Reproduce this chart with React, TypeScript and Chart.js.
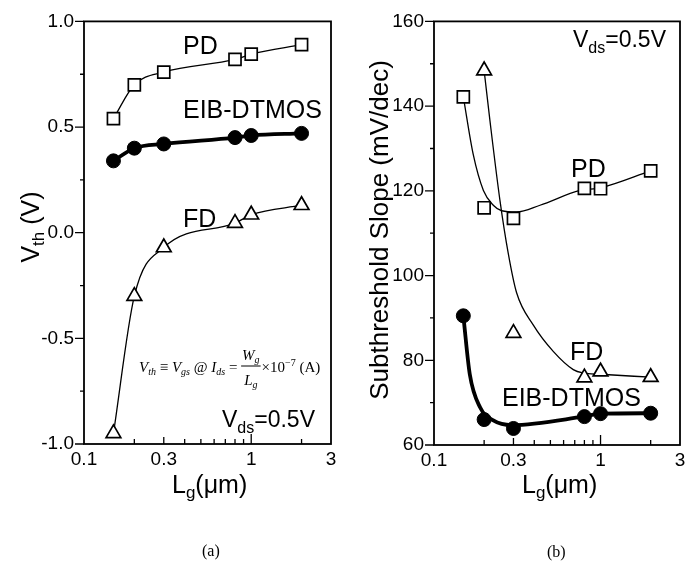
import React, { useEffect, useRef } from 'react';
import { Chart, registerables } from 'chart.js';
Chart.register(...registerables);

// ---------- data ----------
const lgX = [0.15, 0.2, 0.3, 0.8, 1.0, 2.0];

// (a) threshold voltage (V)
const vthPD = [0.54, 0.7, 0.76, 0.82, 0.845, 0.89];
const vthEIB = [0.34, 0.4, 0.42, 0.45, 0.46, 0.47];
const vthFD = [-0.95, -0.3, -0.07, 0.045, 0.085, 0.13];

// (b) subthreshold slope (mV/dec)
const ssPD = [142.2, 116.0, 113.5, 120.6, 120.5, 124.7];
const ssEIB = [90.5, 66.0, 63.9, 66.7, 67.4, 67.5];
const ssFDX = [0.2, 0.3, 0.8, 1.0, 2.0];
const ssFD = [148.4, 86.4, 75.9, 77.3, 76.0];

// fitted guide curves in (b)
const ssPDFitX = [0.15, 0.172, 0.198, 0.227, 0.255, 0.313, 0.433, 0.752, 1.0, 2.0];
const ssPDFit = [142.2, 128.6, 120.1, 116.6, 115.3, 115.0, 116.6, 120.1, 120.7, 124.7];
const ssFDFitX = [0.2, 0.217, 0.249, 0.279, 0.313, 0.395, 0.52, 0.686, 0.786, 1.0, 2.0];
const ssFDFit = [148.4, 136.4, 117.7, 105.3, 96.0, 88.3, 82.1, 77.8, 77.0, 76.7, 76.0];
const ssEIBFitX = [0.15, 0.164, 0.189, 0.227, 0.293, 0.786, 1.0, 2.0];
const ssEIBFit = [90.5, 76.7, 68.9, 65.8, 64.7, 66.7, 67.4, 67.5];

// ticks
const xMinorTicks = [0.2, 0.3, 0.4, 0.5, 0.6, 0.7, 0.8, 0.9, 1, 2];
const xLabelTicks = [0.1, 0.3, 1, 3];
const vthMajor = [-1, -0.5, 0, 0.5, 1];
const vthMinor = [-0.75, -0.25, 0.25, 0.75];
const ssMajor = [60, 80, 100, 120, 140, 160];
const ssMinor = [70, 90, 110, 130, 150];

const SANS = '"Liberation Sans", Arial, Helvetica, sans-serif';
const SERIF = '"Liberation Serif", "Times New Roman", serif';

type Run = { t: string; size: number; dy?: number; italic?: boolean; serif?: boolean };

function setFont(ctx: CanvasRenderingContext2D, r: Run) {
  ctx.font = `${r.italic ? 'italic ' : ''}${r.size}px ${r.serif ? SERIF : SANS}`;
}
function runsWidth(ctx: CanvasRenderingContext2D, runs: Run[]) {
  let w = 0;
  for (const r of runs) {
    setFont(ctx, r);
    w += ctx.measureText(r.t).width;
  }
  return w;
}
function drawRuns(ctx: CanvasRenderingContext2D, x: number, y: number, runs: Run[]) {
  let cx = x;
  for (const r of runs) {
    setFont(ctx, r);
    ctx.fillText(r.t, cx, y + (r.dy || 0));
    cx += ctx.measureText(r.t).width;
  }
  return cx;
}

const pts = (xs: number[], ys: number[]) => xs.map((x, i) => ({ x, y: ys[i] }));

function framePlugin(yMinor: number[], annotate: (ctx: CanvasRenderingContext2D) => void) {
  return {
    id: 'frame',
    afterDraw(chart: any) {
      const { ctx, chartArea: a, scales } = chart;
      ctx.save();
      ctx.strokeStyle = '#000';
      ctx.lineWidth = 1.8;
      ctx.strokeRect(a.left, a.top, a.right - a.left, a.bottom - a.top);
      ctx.lineWidth = 1.3;
      ctx.beginPath();
      for (const v of xMinorTicks) {
        const px = scales.x.getPixelForValue(v);
        const len = v === 1 ? 10 : v === 0.3 ? 7 : 5;
        ctx.moveTo(px, a.bottom);
        ctx.lineTo(px, a.bottom - len);
      }
      const yMaj = scales.y.ticks.map((t: any) => t.value);
      for (const v of yMaj) {
        const py = scales.y.getPixelForValue(v);
        ctx.moveTo(a.left - 9, py);
        ctx.lineTo(a.left, py);
      }
      for (const v of yMinor) {
        const py = scales.y.getPixelForValue(v);
        ctx.moveTo(a.left - 4, py);
        ctx.lineTo(a.left, py);
      }
      ctx.stroke();
      ctx.fillStyle = '#000';
      ctx.textBaseline = 'alphabetic';
      ctx.textAlign = 'left';
      annotate(ctx);
      ctx.restore();
    },
  };
}

function baseOptions(yMin: number, yMax: number, yMajor: number[], fmt: (v: number) => string, yWidth: number, padRight: number, xHeight: number) {
  return {
    responsive: false,
    maintainAspectRatio: false,
    animation: false,
    layout: { padding: { left: 0, right: padRight, top: 15, bottom: 0 } },
    plugins: { legend: { display: false }, tooltip: { enabled: false } },
    scales: {
      x: {
        type: 'logarithmic',
        min: 0.1,
        max: 3,
        grid: { display: false, drawTicks: false },
        border: { display: false },
        afterBuildTicks: (s: any) => {
          s.ticks = xLabelTicks.map((v) => ({ value: v }));
        },
        afterFit: (s: any) => {
          s.height = xHeight;
        },
        ticks: {
          autoSkip: false,
          maxRotation: 0,
          padding: 4,
          color: '#000',
          font: { family: SANS, size: 19 },
          callback: (v: any) => String(v),
        },
      },
      y: {
        type: 'linear',
        min: yMin,
        max: yMax,
        grid: { display: false, drawTicks: false },
        border: { display: false },
        afterBuildTicks: (s: any) => {
          s.ticks = yMajor.map((v) => ({ value: v }));
        },
        afterFit: (s: any) => {
          s.width = yWidth;
        },
        ticks: {
          autoSkip: false,
          padding: 10,
          color: '#000',
          font: { family: SANS, size: 19 },
          callback: (v: any) => fmt(Number(v)),
        },
      },
    },
  };
}

const LBL = 25;
const FS = 15; // formula size
const FSS = 10; // formula subscript size

function annotateLeft(ctx: CanvasRenderingContext2D) {
  drawRuns(ctx, 183, 54, [{ t: 'PD', size: LBL }]);
  drawRuns(ctx, 183, 118, [{ t: 'EIB-DTMOS', size: LBL }]);
  drawRuns(ctx, 183, 227, [{ t: 'FD', size: LBL }]);
  drawRuns(ctx, 222, 427, [
    { t: 'V', size: 23 },
    { t: 'ds', size: 16, dy: 6 },
    { t: '=0.5V', size: 23 },
  ]);
  // formula
  let x = drawRuns(ctx, 139, 372, [
    { t: 'V', size: FS, italic: true, serif: true },
    { t: 'th', size: FSS, italic: true, serif: true, dy: 3 },
    { t: ' \u2261 ', size: FS, serif: true },
    { t: 'V', size: FS, italic: true, serif: true },
    { t: 'gs', size: FSS, italic: true, serif: true, dy: 3 },
    { t: ' @ ', size: FS, serif: true },
    { t: 'I', size: FS, italic: true, serif: true },
    { t: 'ds', size: FSS, italic: true, serif: true, dy: 3 },
    { t: ' = ', size: FS, serif: true },
  ]);
  const num: Run[] = [
    { t: 'W', size: FS, italic: true, serif: true },
    { t: 'g', size: FSS, italic: true, serif: true, dy: 3 },
  ];
  const den: Run[] = [
    { t: 'L', size: FS, italic: true, serif: true },
    { t: 'g', size: FSS, italic: true, serif: true, dy: 3 },
  ];
  const fw = Math.max(runsWidth(ctx, num), runsWidth(ctx, den)) + 2;
  drawRuns(ctx, x + (fw - runsWidth(ctx, num)) / 2, 360, num);
  drawRuns(ctx, x + (fw - runsWidth(ctx, den)) / 2, 385, den);
  ctx.lineWidth = 1;
  ctx.beginPath();
  ctx.moveTo(x, 366);
  ctx.lineTo(x + fw, 366);
  ctx.stroke();
  x += fw + 1;
  drawRuns(ctx, x, 372, [
    { t: '\u00d710', size: FS, serif: true },
    { t: '\u22127', size: FSS, serif: true, dy: -6 },
    { t: ' (A)', size: FS, serif: true },
  ]);
  // axis titles
  ctx.save();
  ctx.translate(39, 227);
  ctx.rotate(-Math.PI / 2);
  const yt: Run[] = [
    { t: 'V', size: 25 },
    { t: 'th', size: 17, dy: 5 },
    { t: ' (V)', size: 25 },
  ];
  drawRuns(ctx, -runsWidth(ctx, yt) / 2, 0, yt);
  ctx.restore();
  drawRuns(ctx, 172, 493, [
    { t: 'L', size: 25 },
    { t: 'g', size: 17, dy: 5 },
    { t: '(\u03bcm)', size: 25 },
  ]);
  drawRuns(ctx, 202, 556, [{ t: '(a)', size: 16, serif: true }]);
}

const OFF = 348;
function annotateRight(ctx: CanvasRenderingContext2D) {
  drawRuns(ctx, 573 - OFF, 47, [
    { t: 'V', size: 23 },
    { t: 'ds', size: 16, dy: 6 },
    { t: '=0.5V', size: 23 },
  ]);
  drawRuns(ctx, 571 - OFF, 177, [{ t: 'PD', size: LBL }]);
  drawRuns(ctx, 570 - OFF, 360, [{ t: 'FD', size: LBL }]);
  drawRuns(ctx, 502 - OFF, 406, [{ t: 'EIB-DTMOS', size: LBL }]);
  ctx.save();
  ctx.translate(388 - OFF, 230);
  ctx.rotate(-Math.PI / 2);
  const yt: Run[] = [{ t: 'Subthreshold Slope (mV/dec)', size: 26 }];
  drawRuns(ctx, -runsWidth(ctx, yt) / 2, 0, yt);
  ctx.restore();
  drawRuns(ctx, 522 - OFF, 493, [
    { t: 'L', size: 25 },
    { t: 'g', size: 17, dy: 5 },
    { t: '(\u03bcm)', size: 25 },
  ]);
  drawRuns(ctx, 547 - OFF, 557, [{ t: '(b)', size: 16, serif: true }]);
}

const markerSet = (data: any[], style: string, filled: boolean, r: number) => ({
  data,
  showLine: false,
  pointStyle: style,
  pointRadius: r,
  pointBackgroundColor: filled ? '#000' : '#fff',
  pointBorderColor: '#000',
  pointBorderWidth: filled ? 1 : 1.7,
  borderColor: '#000',
});
const lineSet = (data: any[], w: number) => ({
  data,
  borderColor: '#000',
  borderWidth: w,
  pointRadius: 0,
  cubicInterpolationMode: 'monotone',
  fill: false,
});

export default function App() {
  const leftRef = useRef<HTMLCanvasElement>(null);
  const rightRef = useRef<HTMLCanvasElement>(null);

  useEffect(() => {
    const left = new Chart(leftRef.current as HTMLCanvasElement, {
      type: 'line',
      data: {
        datasets: [
          {
            ...markerSet(pts(lgX, vthPD), 'rect', false, 8.5),
            showLine: true,
            borderWidth: 1.3,
            cubicInterpolationMode: 'monotone',
          },
          {
            ...markerSet(pts(lgX, vthEIB), 'circle', true, 7),
            showLine: true,
            borderWidth: 3.8,
            cubicInterpolationMode: 'monotone',
          },
          {
            ...markerSet(pts(lgX, vthFD), 'triangle', false, 8.5),
            showLine: true,
            borderWidth: 1.3,
            cubicInterpolationMode: 'monotone',
          },
        ],
      } as any,
      options: baseOptions(-1, 1, vthMajor, (v) => v.toFixed(1), 84, 348 - 331, 123) as any,
      plugins: [framePlugin(vthMinor, annotateLeft)],
    });
    const right = new Chart(rightRef.current as HTMLCanvasElement, {
      type: 'line',
      data: {
        datasets: [
          markerSet(pts(lgX, ssPD), 'rect', false, 8.5),
          markerSet(pts(ssFDX, ssFD), 'triangle', false, 8.5),
          markerSet(pts(lgX, ssEIB), 'circle', true, 7),
          lineSet(pts(ssPDFitX, ssPDFit), 1.3),
          lineSet(pts(ssFDFitX, ssFDFit), 1.3),
          lineSet(pts(ssEIBFitX, ssEIBFit), 3.8),
        ],
      } as any,
      options: baseOptions(60, 160, ssMajor, (v) => String(v), 434 - OFF, 696 - 680, 122) as any,
      plugins: [framePlugin(ssMinor, annotateRight)],
    });
    return () => {
      left.destroy();
      right.destroy();
    };
  }, []);

  return (
    <div style={{ position: 'absolute', left: 0, top: 0, width: 696, height: 567, background: '#fff' }}>
      <canvas ref={leftRef} width={348} height={567} style={{ position: 'absolute', left: 0, top: 0, width: 348, height: 567 }} />
      <canvas ref={rightRef} width={348} height={567} style={{ position: 'absolute', left: 348, top: 0, width: 348, height: 567 }} />
    </div>
  );
}
